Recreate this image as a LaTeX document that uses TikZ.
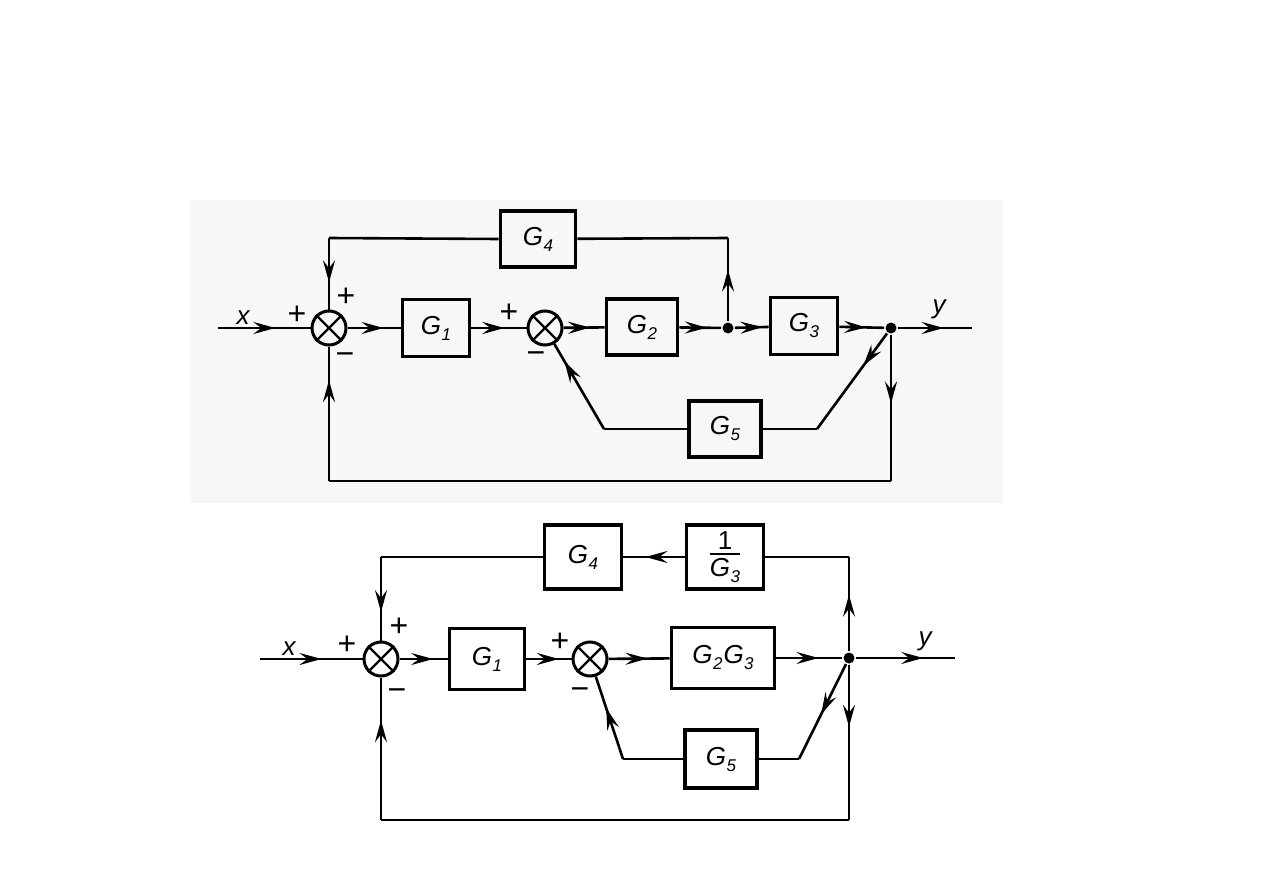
\documentclass[tikz,border=0pt]{standalone}
\usepackage{fontspec}
\setsansfont{Liberation Sans}
\usetikzlibrary{arrows.meta,decorations.markings}
\newcommand\Gsub[1]{G\kern0.5pt\raisebox{-6pt}{\fontsize{17}{17}\selectfont #1}}
\newcommand\invGthree{\vbox{\halign{\hfil##\hfil\cr \upshape 1\cr\noalign{\kern4pt\hrule height1.8pt\kern3pt}\Gsub3\cr}}}
\begin{document}
\begin{tikzpicture}[x=1pt,y=-1pt,
  line width=2.6pt,
  lab/.style={font=\fontsize{26}{28}\selectfont\sffamily\itshape},
  sgn/.style={font=\fontsize{32}{32}\selectfont\sffamily, inner sep=0pt},
  mns/.style={font=\fontsize{32}{32}\selectfont\sffamily, inner sep=0pt, anchor=base},
  blk/.style={draw, line width=3.8pt, inner sep=0pt, lab},
  sumc/.style={draw, circle, minimum size=34pt, inner sep=0pt, line width=3pt},
  dotn/.style={circle, fill, inner sep=0pt, minimum size=11pt},
  arr/.style={postaction={decorate}, decoration={markings, mark=at position #1 with {\arrow{Stealth[length=22pt,width=12pt,inset=8pt]}}}}]
\useasboundingbox (0,0) rectangle (1263,893);
\fill[black!3] (190,200) rectangle (1003,503);

% ---------- top diagram ----------
\node[sumc] (a1) at (329,328) {};
\node[sumc] (a2) at (545,328) {};
\draw[line width=2.2pt] (a1.45)--(a1.225) (a1.135)--(a1.315);
\draw[line width=2.2pt] (a2.45)--(a2.225) (a2.135)--(a2.315);
\node[blk, minimum width=67pt, minimum height=57pt] (g1) at (436,328) {\Gsub1};
\node[blk, minimum width=71pt, minimum height=56pt] (g2) at (642,327) {\Gsub2};
\node[dotn] (j1) at (728,328) {};
\node[blk, minimum width=67pt, minimum height=57pt] (g3) at (804,326) {\Gsub3};
\node[dotn] (o1) at (891,328) {};
\node[blk, minimum width=75pt, minimum height=56pt] (g4) at (538,239) {\Gsub4};
\node[blk, minimum width=72pt, minimum height=56pt] (g5) at (725,429) {\Gsub5};
\coordinate (xin) at (218,328);
\coordinate (yout) at (972,328);
\coordinate (c4) at (329,238);
\coordinate (c5) at (728,238);
\coordinate (d1) at (604,429);
\coordinate (d2) at (817,429);
\coordinate (b1) at (891,481);
\coordinate (b2) at (329,481);

\draw[arr=0.62] (xin) -- (a1);
\draw[arr=0.68] (a1) -- (g1);
\draw[arr=0.6] (g1) -- (a2);
\draw[arr=0.65] (a2) -- (g2);
\draw[arr=0.66] (g2) -- (j1);
\draw[arr=0.82] (j1) -- (g3);
\draw[arr=0.6] (g3) -- (o1);
\draw[arr=0.62] (o1) -- (yout);
\draw[arr=0.62] (j1) -- (c5);
\draw (c5) -- (g4);
\draw (g4.west) -- (c4);
\draw[arr=0.62] (c4) -- (a1);
\draw[arr=0.47] (o1) -- (b1);
\draw (b1) -- (b2);
\draw[arr=0.75] (b2) -- (a1);
\draw[arr=0.34] (o1) -- (d2);
\draw (d2) -- (g5);
\draw (g5) -- (d1);
\draw[arr=0.8] (d1) -- (a2);

\node[lab] (lx1) at (243,318) {x};
\node[lab] (ly1) at (939,309) {y};
\node[sgn] (p1) at (297,315) {+};
\node[sgn] (p2) at (346,297) {+};
\node[mns] (m1) at (345,364) {−};
\node[sgn] (p3) at (509,313) {+};
\node[mns] (m2) at (536,363) {−};

% ---------- bottom diagram ----------
\node[sumc] (a3) at (381,659) {};
\node[sumc] (a4) at (590,659) {};
\draw[line width=2.2pt] (a3.45)--(a3.225) (a3.135)--(a3.315);
\draw[line width=2.2pt] (a4.45)--(a4.225) (a4.135)--(a4.315);
\node[blk, minimum width=75pt, minimum height=61pt] (h1) at (487,659) {\Gsub1};
\node[blk, minimum width=103pt, minimum height=61pt] (h23) at (723,658) {\Gsub2\kern1pt\Gsub3};
\node[dotn] (o2) at (849,658) {};
\node[blk, minimum width=77pt, minimum height=64pt] (hinv) at (725,557) {\invGthree};
\node[blk, minimum width=77pt, minimum height=64pt] (h4) at (583,557) {\Gsub4};
\node[blk, minimum width=72pt, minimum height=58pt] (h5) at (721,759) {\Gsub5};
\coordinate (xin2) at (260,659);
\coordinate (yout2) at (955,658);
\coordinate (e1) at (849,557);
\coordinate (e2) at (381,557);
\coordinate (f1) at (623,759);
\coordinate (f2) at (799,759);
\coordinate (k1) at (849,820);
\coordinate (k2) at (381,820);

\draw[arr=0.6] (xin2) -- (a3);
\draw[arr=0.7] (a3) -- (h1);
\draw[arr=0.72] (h1) -- (a4);
\draw[arr=0.64] (a4) -- (h23);
\draw[arr=0.64] (h23) -- (o2);
\draw[arr=0.68] (o2) -- (yout2);
\draw[arr=0.6] (o2) -- (e1);
\draw (e1) -- (hinv);
\draw[arr=0.64] (hinv) -- (h4);
\draw (h4) -- (e2);
\draw[arr=0.66] (e2) -- (a3);
\draw[arr=0.4] (o2) -- (k1);
\draw (k1) -- (k2);
\draw[arr=0.7] (k2) -- (a3);
\draw[arr=0.53] (o2) -- (f2);
\draw (f2) -- (h5);
\draw (h5) -- (f1);
\draw[arr=0.62] (f1) -- (a4);

\node[lab] (lx2) at (289,649) {x};
\node[lab] (ly2) at (925,641) {y};
\node[sgn] (p4) at (347,645) {+};
\node[sgn] (p5) at (399,627) {+};
\node[mns] (m3) at (397,700) {−};
\node[sgn] (p6) at (560,642) {+};
\node[mns] (m4) at (580,699) {−};
\end{tikzpicture}
\end{document}
